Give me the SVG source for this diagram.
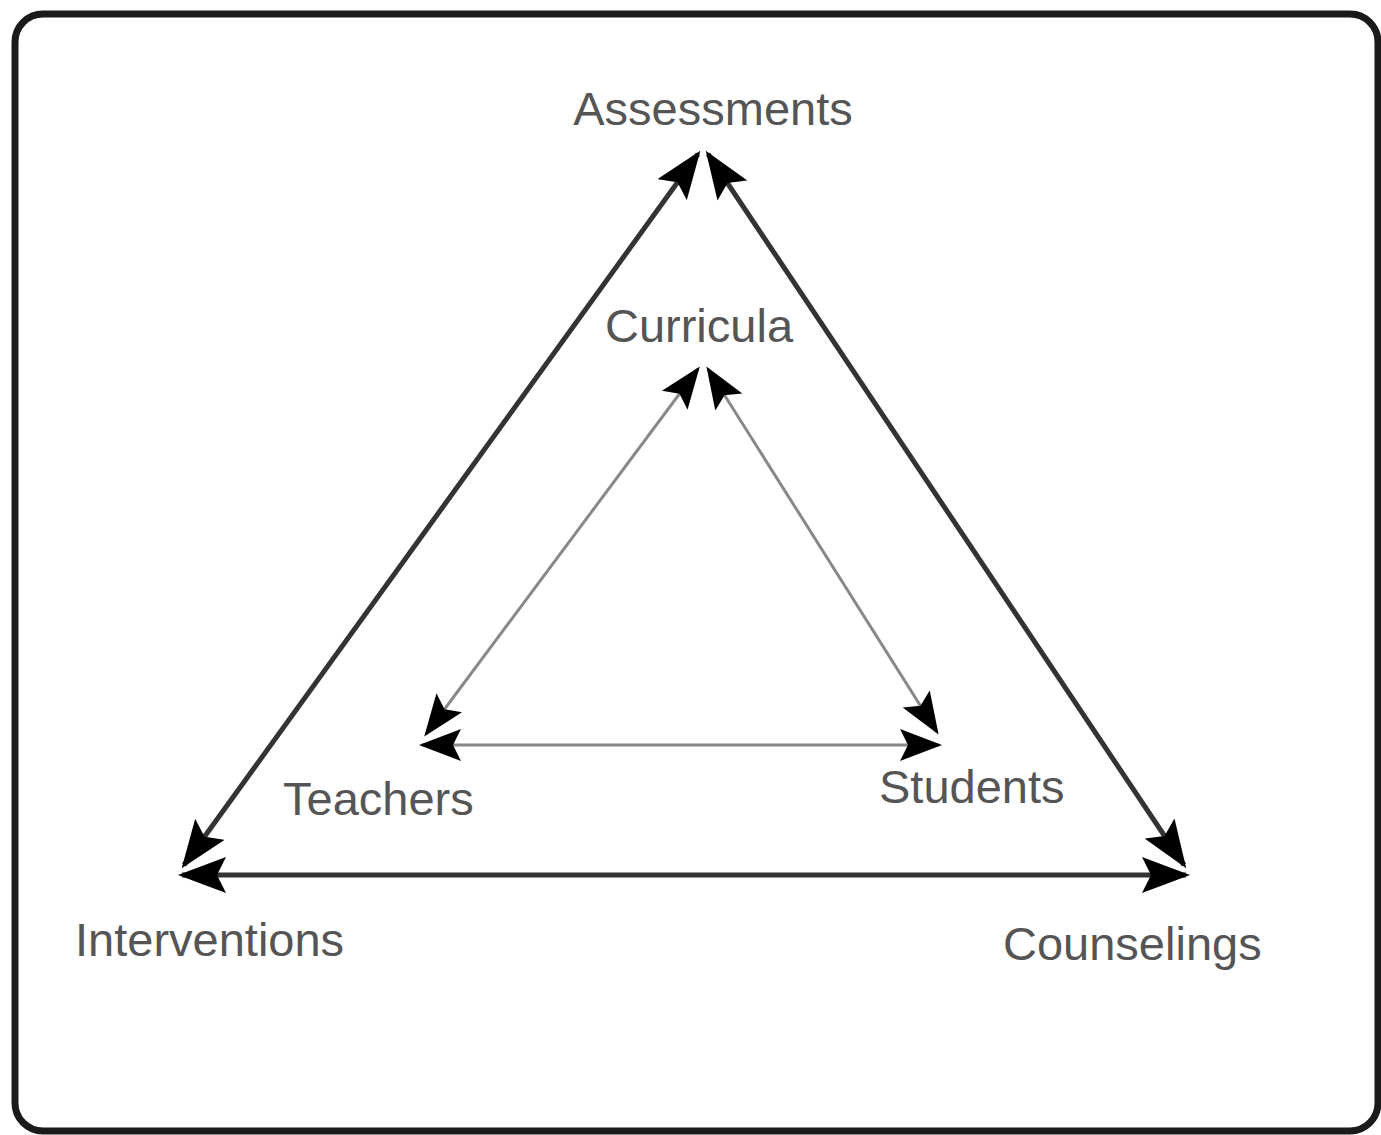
<svg xmlns="http://www.w3.org/2000/svg" width="1381" height="1135" viewBox="0 0 1381 1135">
<style>
.lbl{font-family:"Liberation Sans",Arial,sans-serif;font-size:47px;fill:#555}
.outer{stroke:#333;stroke-width:5;fill:none}
.inner{stroke:#888;stroke-width:3;fill:none}
</style>
<defs>
<marker id="ah-o" markerUnits="userSpaceOnUse" markerWidth="50" markerHeight="36" viewBox="0 0 50 36" refX="44" refY="18" orient="auto-start-reverse">
<path d="M48 18 L0 0 L9 18 L0 36 Z" fill="#000"/>
</marker>
<marker id="ah-i" markerUnits="userSpaceOnUse" markerWidth="44" markerHeight="32" viewBox="0 0 44 32" refX="39" refY="16" orient="auto-start-reverse">
<path d="M42 16 L0 0 L8 16 L0 32 Z" fill="#000"/>
</marker>
</defs>
<rect x="15" y="14" width="1363" height="1117" rx="28" fill="#fff" stroke="#1a1a1a" stroke-width="7"/>
<g id="connectors">
<line class="outer" x1="698" y1="154" x2="184" y2="865" marker-start="url(#ah-o)" marker-end="url(#ah-o)"/>
<line class="outer" x1="708" y1="154" x2="1184" y2="865" marker-start="url(#ah-o)" marker-end="url(#ah-o)"/>
<line class="outer" x1="182" y1="875" x2="1186" y2="875" marker-start="url(#ah-o)" marker-end="url(#ah-o)"/>
<line class="inner" x1="698" y1="369" x2="426" y2="734" marker-start="url(#ah-i)" marker-end="url(#ah-i)"/>
<line class="inner" x1="708" y1="369" x2="937" y2="732" marker-start="url(#ah-i)" marker-end="url(#ah-i)"/>
<line class="inner" x1="422" y1="745" x2="939" y2="745" marker-start="url(#ah-i)" marker-end="url(#ah-i)"/>
</g>
<g id="assessments"><text class="lbl" x="713" y="125" text-anchor="middle">Assessments</text></g>
<g id="curricula"><text class="lbl" x="699" y="342" text-anchor="middle">Curricula</text></g>
<g id="teachers"><text class="lbl" x="283" y="815">Teachers</text></g>
<g id="students"><text class="lbl" x="879" y="803">Students</text></g>
<g id="interventions"><text class="lbl" x="75" y="956">Interventions</text></g>
<g id="counselings"><text class="lbl" x="1003" y="960">Counselings</text></g>
</svg>
